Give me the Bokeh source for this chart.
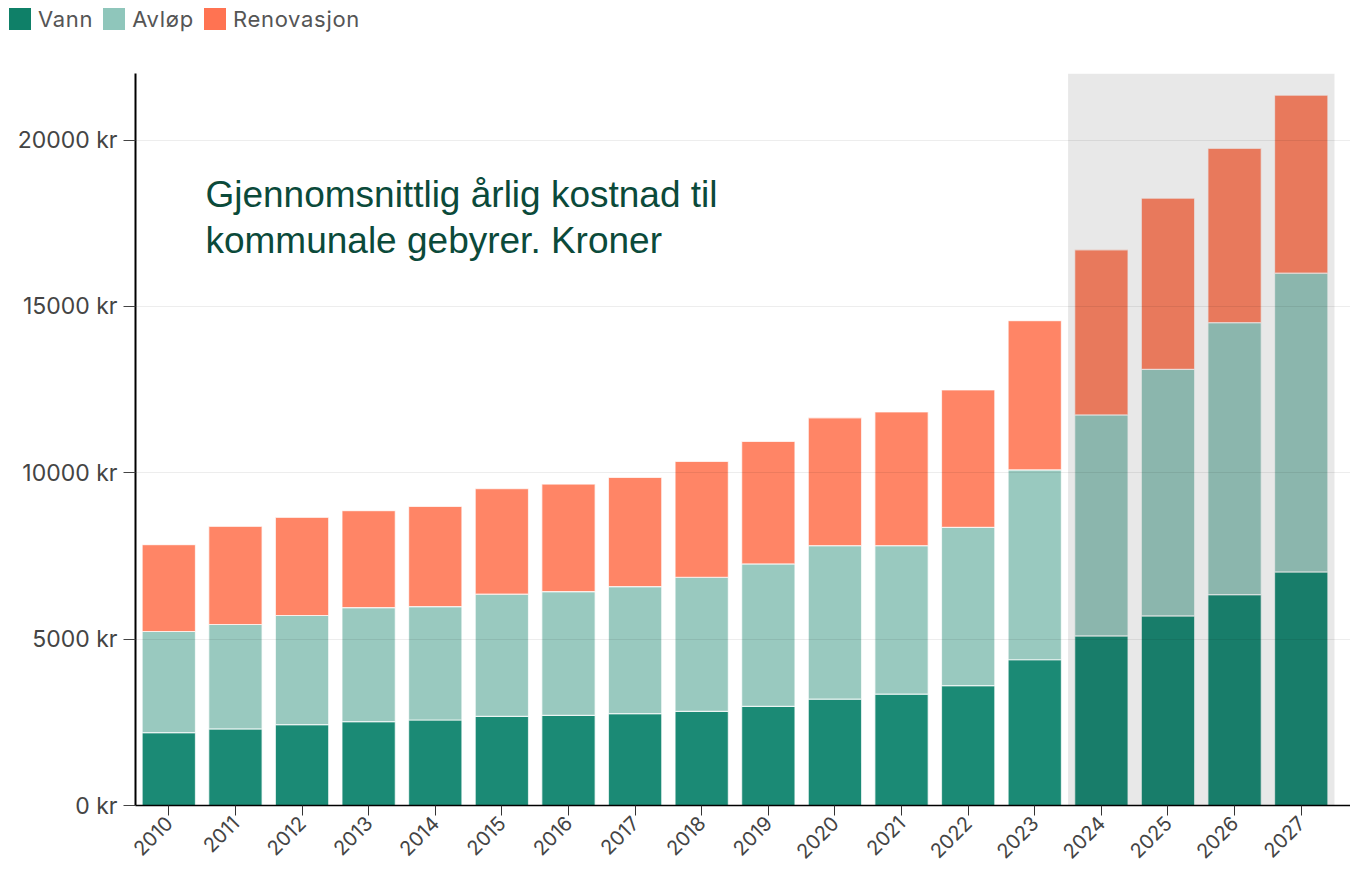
import math
from bokeh.plotting import figure
from bokeh.layouts import column
from bokeh.models import (ColumnDataSource, FixedTicker, PrintfTickFormatter, BoxAnnotation,
                          Label, Range1d, Div)
from bokeh.embed import file_html
from bokeh.resources import INLINE

years = [2010, 2011, 2012, 2013, 2014, 2015, 2016, 2017, 2018,
         2019, 2020, 2021, 2022, 2023, 2024, 2025, 2026, 2027]
vann = [2190, 2300, 2430, 2520, 2570, 2680, 2710, 2760, 2830,
        2980, 3200, 3350, 3600, 4380, 5100, 5700, 6340, 7020]
avlop = [3040, 3140, 3280, 3430, 3410, 3670, 3720, 3820, 4030,
         4280, 4610, 4460, 4760, 5710, 6640, 7410, 8170, 8980]
renovasjon = [2610, 2950, 2950, 2910, 3010, 3170, 3230, 3280, 3480,
              3680, 3840, 4020, 4130, 4480, 4960, 5140, 5240, 5350]
series = ["Vann", "Avløp", "Renovasjon"]
colors = ["#1b8a75", "#99c9bf", "#ff8566"]
legend_colors = ["#0f8068", "#8fc6bb", "#ff7352"]
forecast_start, forecast_end = 2024, 2027
title_lines = ["Gjennomsnittlig årlig kostnad til", "kommunale gebyrer. Kroner"]

src = ColumnDataSource(dict(year=years, Vann=vann, Avløp=avlop, Renovasjon=renovasjon))

# legend strip as HTML (sits left of the main plot's frame)
items_html = "".join(
    f'<span style="display:inline-flex;align-items:center;margin-right:10px;">'
    f'<span style="display:inline-block;width:22px;height:22px;background:{c};margin-right:7px;"></span>'
    f'<span>{s}</span></span>'
    for s, c in zip(series, legend_colors))
lf = Div(text=f'<div style="display:flex;align-items:center;padding:8px 0 0 9px;'
              f'font-family:Inter;font-size:22px;letter-spacing:0.7px;color:#555;'
              f'line-height:22px;">{items_html}</div>',
         width=1350, height=40, margin=0)

p = figure(width=1350, height=828, output_backend="svg", toolbar_location=None,
           x_range=Range1d(2009.5, 2027.74), y_range=Range1d(0, 22000),
           min_border_left=135, min_border_right=0, min_border_top=33, min_border_bottom=62)
p.outline_line_color = None
p.background_fill_color = "white"

rs = p.vbar_stack(series, x="year", width=0.8, source=src, color=colors,
                  line_color="white", line_width=1.2, line_alpha=0.7)

p.add_layout(BoxAnnotation(left=forecast_start - 0.5, right=forecast_end + 0.5,
                           fill_color="black", fill_alpha=0.09, line_color=None))

p.xgrid.grid_line_color = None
p.ygrid.grid_line_color = "black"
p.ygrid.grid_line_alpha = 0.07
p.ygrid.level = "overlay"
p.ygrid.ticker = FixedTicker(ticks=[0, 5000, 10000, 15000, 20000])

p.yaxis.ticker = FixedTicker(ticks=[0, 5000, 10000, 15000, 20000])
p.yaxis.formatter = PrintfTickFormatter(format="%d kr")
p.yaxis.axis_line_color = "black"
p.yaxis.axis_line_width = 2
p.yaxis.major_tick_out = 12
p.yaxis.major_tick_in = 0
p.yaxis.major_tick_line_color = "#444"
p.yaxis.minor_tick_line_color = None
p.yaxis.major_label_text_font = "Inter"
p.yaxis.major_label_text_font_size = "23px"
p.yaxis.major_label_text_color = "#444"
p.yaxis.major_label_standoff = 6

p.xaxis.ticker = FixedTicker(ticks=years)
p.xaxis.axis_line_color = "black"
p.xaxis.axis_line_width = 1.5
p.xaxis.major_tick_out = 10
p.xaxis.major_tick_in = 0
p.xaxis.major_tick_line_color = "#333"
p.xaxis.minor_tick_line_color = None
p.xaxis.major_label_orientation = math.pi / 4
p.xaxis.major_label_text_font = "Inter"
p.xaxis.major_label_text_font_size = "20px"
p.xaxis.major_label_text_color = "#444"
p.xaxis.major_label_standoff = 4

for i, line in enumerate(title_lines):
    p.add_layout(Label(x=2010.55, y=18370 - i * 1390, text=line,
                       text_font="Liberation Sans", text_font_size="37px",
                       text_color="#0b4a3a", text_baseline="alphabetic"))

layout = column(lf, p, spacing=0)
open("out.html", "w").write(file_html(layout, INLINE))
